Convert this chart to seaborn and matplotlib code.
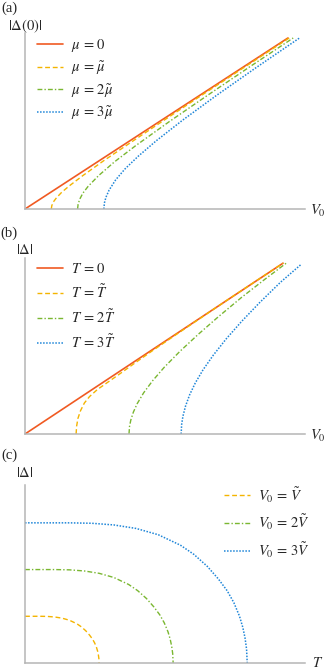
import seaborn as sns
import matplotlib.pyplot as plt

# panel (a): |Delta(0)| vs V0 for several mu
a_v_mu0 = [0, 10.0]
a_d_mu0 = [0, 6.5]
a_v_mu1 = [1.0, 1.02, 1.08, 1.2, 1.4, 1.7, 2.2, 3.0, 4.5, 6.5, 8.5, 10.05]
a_d_mu1 = [0, 0.13, 0.27, 0.43, 0.64, 0.89, 1.27, 1.84, 2.85, 4.18, 5.49, 6.5]
a_v_mu2 = [2.0, 2.02, 2.08, 2.2, 2.4, 2.8, 3.4, 4.2, 5.5, 7.0, 8.6, 10.2]
a_d_mu2 = [0, 0.18, 0.37, 0.6, 0.86, 1.27, 1.79, 2.4, 3.33, 4.36, 5.44, 6.5]
a_v_mu3 = [3.0, 3.02, 3.08, 3.2, 3.45, 3.8, 4.3, 5.0, 6.0, 7.3, 8.8, 10.44]
a_d_mu3 = [0, 0.23, 0.45, 0.72, 1.11, 1.52, 2.0, 2.6, 3.38, 4.33, 5.38, 6.5]

# panel (b): |Delta| vs V0 for several T
b_v_t0 = [0, 10.0]
b_d_t0 = [0, 6.62]
b_v_t1 = [1.98, 2.0, 2.05, 2.15, 2.3, 2.5, 2.8, 3.2, 3.7, 4.3, 5.0, 6.0, 8.0, 10.0]
b_d_t1 = [0, 0.3, 0.6, 0.9, 1.2, 1.45, 1.72, 2.0, 2.35, 2.78, 3.27, 3.95, 5.3, 6.62]
b_v_t2 = [4.03, 4.05, 4.1, 4.2, 4.35, 4.6, 4.95, 5.4, 6.0, 6.7, 7.5, 8.4, 9.3, 10.15]
b_d_t2 = [0, 0.29, 0.54, 0.85, 1.18, 1.6, 2.07, 2.59, 3.2, 3.85, 4.55, 5.3, 6.0, 6.64]
b_v_t3 = [6.05, 6.07, 6.12, 6.22, 6.38, 6.6, 6.9, 7.3, 7.8, 8.4, 9.1, 9.9, 10.72]
b_d_t3 = [0, 0.37, 0.69, 1.08, 1.52, 1.98, 2.49, 3.06, 3.69, 4.37, 5.1, 5.88, 6.59]

# panel (c): |Delta| vs T for several V0
c_t_v1 = [0, 0.1, 0.2, 0.3, 0.4, 0.5, 0.6, 0.7, 0.76, 0.82, 0.87, 0.91, 0.94, 0.965,
          0.98, 0.99, 0.997, 1.0]
c_d_v1 = [1, 1, 1, 0.997, 0.985, 0.96, 0.915, 0.84, 0.775, 0.69, 0.6, 0.515, 0.43, 0.335,
          0.255, 0.18, 0.1, 0]
c_t_v2 = [0, 0.2, 0.4, 0.6, 0.8, 1.0, 1.2, 1.4, 1.52, 1.64, 1.74, 1.82, 1.88, 1.93,
          1.96, 1.98, 1.994, 2.0]
c_d_v2 = [2, 2, 2, 1.994, 1.97, 1.92, 1.83, 1.68, 1.55, 1.38, 1.2, 1.03, 0.86, 0.67,
          0.51, 0.36, 0.2, 0]
c_t_v3 = [0, 0.3, 0.6, 0.9, 1.2, 1.5, 1.8, 2.1, 2.28, 2.46, 2.61, 2.73, 2.82, 2.895,
          2.94, 2.97, 2.991, 3.0]
c_d_v3 = [3, 3, 3, 2.991, 2.955, 2.88, 2.745, 2.52, 2.325, 2.07, 1.8, 1.545, 1.29, 1.005,
          0.765, 0.54, 0.3, 0]

red = '#f05a22'
yellow = '#f4b400'
green = '#7ab731'
blue = '#1f86d8'
sty = [('-', red, 1.2), ((0, (3.5, 2)), yellow, 1.0),
       ((0, (3.5, 1.5, 1, 1.5)), green, 1.0), ((0, (1, 1)), blue, 1.1)]

sns.set_style('white')
plt.rcParams['font.family'] = ['Liberation Serif', 'DejaVu Serif']
plt.rcParams['mathtext.fontset'] = 'stix'

W, H = 326, 671
FS = 10.5
fig = plt.figure(figsize=(W / 100, H / 100), dpi=100)


def box(left, top, right, bottom):
    return [left / W, 1 - bottom / H, (right - left) / W, (bottom - top) / H]


def style_ax(ax, xmax, ymax):
    ax.set_xlim(0, xmax)
    ax.set_ylim(0, ymax)
    ax.set_xticks([])
    ax.set_yticks([])
    ax.set_xlabel('')
    ax.set_ylabel('')
    for s in ['top', 'right']:
        ax.spines[s].set_visible(False)
    for s in ['left', 'bottom']:
        ax.spines[s].set_color('#b5b5b5')
        ax.spines[s].set_linewidth(1.1)
    ax.patch.set_alpha(0)


def leg(ax, x, y, spacing):
    ax.legend(loc='upper left', bbox_to_anchor=(x, y), frameon=False, fontsize=FS,
              borderaxespad=0, handlelength=1.75, handletextpad=0.55, labelspacing=spacing)


def txt(x, y, s, **kw):
    fig.text(x / W, 1 - y / H, s, ha='center', va='center', fontsize=FS, **kw)


# (a)
ax1 = fig.add_axes(box(25, 33, 305, 209))
series_a = [(a_v_mu0, a_d_mu0, r'$\mu\,=\,0$'), (a_v_mu1, a_d_mu1, r'$\mu\,=\,\tilde{\mu}$'),
            (a_v_mu2, a_d_mu2, r'$\mu\,=\,2\tilde{\mu}$'), (a_v_mu3, a_d_mu3, r'$\mu\,=\,3\tilde{\mu}$')]
for (x, y, lab), (ls, c, lw) in zip(series_a, sty):
    sns.lineplot(x=x, y=y, ax=ax1, color=c, linestyle=ls, linewidth=lw, label=lab,
                 sort=False, estimator=None)
style_ax(ax1, 10.65, 6.69)
leg(ax1, 0.022, 1.01, 0.35)

# (b)
ax2 = fig.add_axes(box(25, 258, 305, 434))
series_b = [(b_v_t0, b_d_t0, r'$T\,=\,0$'), (b_v_t1, b_d_t1, r'$T\,=\,\tilde{T}$'),
            (b_v_t2, b_d_t2, r'$T\,=\,2\tilde{T}$'), (b_v_t3, b_d_t3, r'$T\,=\,3\tilde{T}$')]
for (x, y, lab), (ls, c, lw) in zip(series_b, sty):
    sns.lineplot(x=x, y=y, ax=ax2, color=c, linestyle=ls, linewidth=lw, label=lab,
                 sort=False, estimator=None)
style_ax(ax2, 10.85, 6.82)
leg(ax2, 0.022, 1.01, 0.5)

# (c)
ax3 = fig.add_axes(box(25, 485, 305, 663))
series_c = [(c_t_v1, c_d_v1, r'$V_0\,=\,\tilde{V}$'), (c_t_v2, c_d_v2, r'$V_0\,=\,2\tilde{V}$'),
            (c_t_v3, c_d_v3, r'$V_0\,=\,3\tilde{V}$')]
for (x, y, lab), (ls, c, lw) in zip(series_c, sty[1:]):
    sns.lineplot(x=x, y=y, ax=ax3, color=c, linestyle=ls, linewidth=lw, label=lab,
                 sort=False, estimator=None)
style_ax(ax3, 3.78, 3.81)
leg(ax3, 0.69, 1.034, 0.55)

txt(9, 8, '(a)')
txt(25, 26, r'$|\Delta(0)|$')
txt(318, 211, r'$V_0$')
txt(9, 233, '(b)')
txt(25, 250, r'$|\Delta|$')
txt(318, 436, r'$V_0$')
txt(9, 455, '(c)')
txt(25, 473, r'$|\Delta|$')
txt(318, 663, r'$T$')

fig.savefig('out.png', dpi=100)
